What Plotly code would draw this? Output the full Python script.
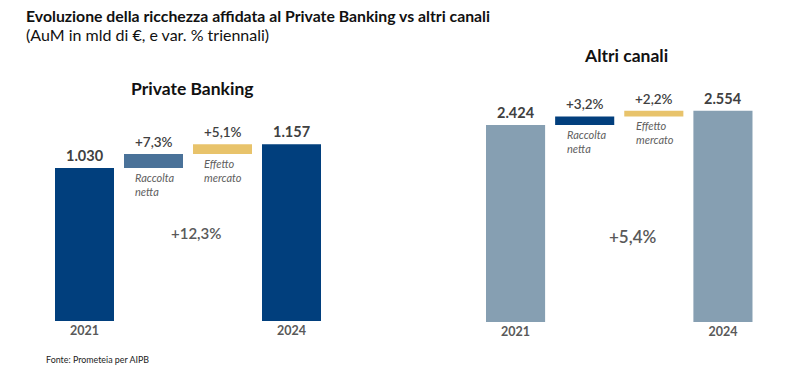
import plotly.graph_objects as go

# ---- data ----
categories = ["2021", "Raccolta netta", "Effetto mercato", "2024"]
pb_start, pb_end = 1030, 1157
pb_pct = [7.3, 5.1]          # raccolta netta, effetto mercato
pb_total_pct = "+12,3%"
ac_start, ac_end = 2424, 2554
ac_pct = [3.2, 2.2]
ac_total_pct = "+5,4%"
value_labels_pb = ["1.030", "+7,3%", "+5,1%", "1.157"]
value_labels_ac = ["2.424", "+3,2%", "+2,2%", "2.554"]
tick_labels = ["2021", "", "", "2024"]

FONT = "Lato"
GREY = "#404040"


def steps(start, end, pct):
    racc = start * pct[0] / 100
    eff = end - start - racc
    heights = [start, racc, eff, end]
    bases = [0, start, start + racc, 0]
    return heights, bases


pb_h, pb_b = steps(pb_start, pb_end, pb_pct)
ac_h, ac_b = steps(ac_start, ac_end, ac_pct)

pb_colors = ["#013F7D", "#4A7299", "#E8C36B", "#013F7D"]
ac_colors = ["#869FB2", "#023F7D", "#E8C36B", "#869FB2"]

xpos = list(range(len(categories)))

fig = go.Figure()
fig.add_trace(go.Bar(x=xpos, y=pb_h, base=pb_b, marker_color=pb_colors,
                     marker_line_width=0, xaxis="x", yaxis="y", showlegend=False,
                     hovertext=categories))
fig.add_trace(go.Bar(x=xpos, y=ac_h, base=ac_b, marker_color=ac_colors,
                     marker_line_width=0, xaxis="x2", yaxis="y2", showlegend=False,
                     hovertext=categories))

ann = []
for xr, yr, h, b, labels in [("x", "y", pb_h, pb_b, value_labels_pb),
                             ("x2", "y2", ac_h, ac_b, value_labels_ac)]:
    for i in xpos:
        top = b[i] + h[i]
        big = i in (0, 3)
        ann.append(dict(x=i, y=top, xref=xr, yref=yr, text=labels[i],
                        showarrow=False, yanchor="bottom", yshift=2,
                        font=dict(family=FONT, size=14.5 if big else 13.5, color=GREY,
                                  weight=700 if big else 600)))
    # italic category notes under the step bars
    for i, txt in [(1, "Raccolta<br>netta"), (2, "Effetto<br>mercato")]:
        ann.append(dict(x=i - 0.29, y=b[i], xref=xr, yref=yr, text="<i>%s</i>" % txt,
                        showarrow=False, xanchor="left", yanchor="top", yshift=-1, align="left",
                        font=dict(family=FONT, size=11, color="#606060")))

# total growth labels
ann.append(dict(x=1.62, y=pb_start * 0.662, xref="x", yref="y", text=pb_total_pct, showarrow=False,
                font=dict(family=FONT, size=15, color="#595959", weight=600)))
ann.append(dict(x=1.69, y=ac_start * 0.58, xref="x2", yref="y2", text=ac_total_pct, showarrow=False,
                font=dict(family=FONT, size=17, color="#595959", weight=600)))

# panel titles
ann.append(dict(x=192 / 803, y=1 - 88 / 366, xref="paper", yref="paper", xanchor="center",
                yanchor="middle", text="<b>Private Banking</b>",
                showarrow=False, font=dict(family=FONT, size=17.5, color="#111111")))
ann.append(dict(x=626 / 803, y=1 - 56 / 366, xref="paper", yref="paper", xanchor="center",
                yanchor="middle", text="<b>Altri canali</b>",
                showarrow=False, font=dict(family=FONT, size=17.5, color="#111111")))

# main titles
ann.append(dict(x=24 / 803, y=1 - 15 / 366, xref="paper", yref="paper", xanchor="left", yanchor="middle",
                text="<b>Evoluzione della ricchezza affidata al Private Banking vs altri canali</b>",
                showarrow=False, font=dict(family=FONT, size=15.8, color="#111111")))
ann.append(dict(x=24 / 803, y=1 - 34 / 366, xref="paper", yref="paper", xanchor="left", yanchor="middle",
                text="(AuM in mld di €, e var. % triennali)",
                showarrow=False, font=dict(family=FONT, size=16, color="#111111")))
ann.append(dict(x=44 / 803, y=1 - 359 / 366, xref="paper", yref="paper", xanchor="left", yanchor="middle",
                text="Fonte: Prometeia per AIPB",
                showarrow=False, font=dict(family=FONT, size=8.9, color="#222222")))

axis_common = dict(showgrid=False, zeroline=False, showline=False, ticks="",
                   tickfont=dict(family=FONT, size=12.5, color="#595959", weight=700),
                   tickmode="array", tickvals=xpos, ticktext=tick_labels,
                   range=[-0.5, 3.5])
yaxis_common = dict(showgrid=False, zeroline=False, showline=False, showticklabels=False, ticks="")

fig.update_layout(
    width=803, height=366,
    margin=dict(l=0, r=0, t=0, b=0),
    paper_bgcolor="white", plot_bgcolor="white",
    bargap=0.145,
    xaxis=dict(domain=[50 / 803, 326 / 803], anchor="y", **axis_common),
    xaxis2=dict(domain=[481 / 803, 757.5 / 803], anchor="y2", **axis_common),
    yaxis=dict(domain=[45 / 366, 306 / 366], range=[210, 1609], **yaxis_common),
    yaxis2=dict(domain=[44 / 366, 306 / 366], range=[633, 3015], **yaxis_common),
    annotations=ann,
)

fig.write_html("out.html", config={"displayModeBar": False},
               post_script="document.body.style.margin='0';")
